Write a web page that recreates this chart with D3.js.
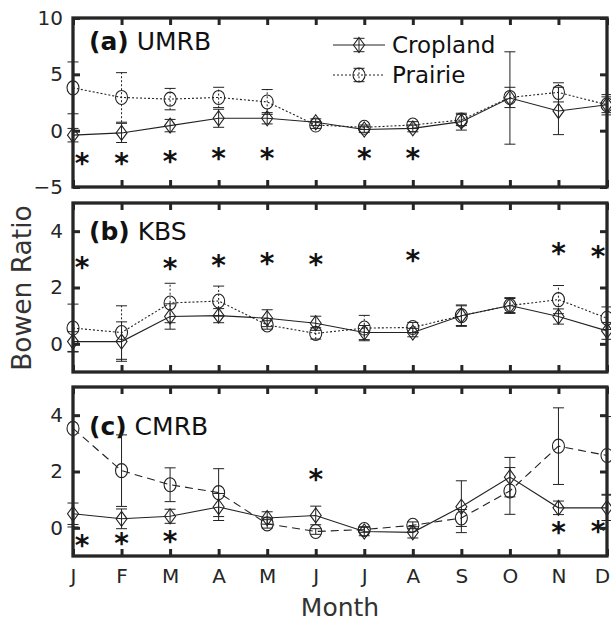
<!DOCTYPE html>
<html>
<head>
<meta charset="utf-8">
<script src="https://cdn.jsdelivr.net/npm/d3@7/dist/d3.min.js"></script>
<style>
  body { margin: 0; background: #fff; }
  svg { display: block; font-family: "DejaVu Sans", sans-serif; }
</style>
</head>
<body>
<svg id="chart" width="611" height="622"></svg>
<script>
// month labels
var months = ['J', 'F', 'M', 'A', 'M', 'J', 'J', 'A', 'S', 'O', 'N', 'D'];

// (a) UMRB
var umrbCrop       = [-0.4, -0.2, 0.45, 1.1, 1.1, 0.75, 0.1, 0.2, 0.8, 2.9, 1.75, 2.3];
var umrbCropErr    = [0.6, 0.85, 0.55, 0.8, 0.5, 0.3, 0.25, 0.3, 0.75, 4.1, 2.1, 0.9];
var umrbPrairie    = [3.8, 2.95, 2.8, 2.95, 2.55, 0.5, 0.3, 0.5, 0.95, 2.95, 3.4, 2.3];
var umrbPrairieErr = [2.3, 2.2, 0.95, 0.9, 1.1, 0.3, 0.2, 0.3, 0.5, 0.9, 0.85, 0.7];
var umrbStars      = [-2.4, -2.4, -2.2, -1.95, -1.95, null, -1.95, -1.95, null, null, null, null];

// (b) KBS
var kbsCrop       = [0.08, 0.08, 0.97, 1.0, 0.91, 0.73, 0.4, 0.4, 1.0, 1.36, 0.97, 0.46];
var kbsCropErr    = [0.35, 0.7, 0.45, 0.25, 0.3, 0.25, 0.25, 0.15, 0.38, 0.28, 0.27, 0.3];
var kbsPrairie    = [0.56, 0.4, 1.45, 1.52, 0.67, 0.37, 0.56, 0.58, 1.0, 1.36, 1.57, 0.91];
var kbsPrairieErr = [0.85, 0.95, 0.7, 0.53, 0.15, 0.2, 0.45, 0.18, 0.35, 0.25, 0.5, 0.4];
var kbsStars      = [2.93, null, 2.9, 2.99, 3.07, 3.03, null, 3.17, null, null, 3.41, 3.33];

// (c) CMRB
var cmrbCrop       = [0.5, 0.32, 0.41, 0.74, 0.35, 0.44, -0.13, -0.16, 0.75, 1.8, 0.71, 0.71];
var cmrbCropErr    = [0.38, 0.35, 0.25, 0.48, 0.22, 0.33, 0.15, 0.2, 0.92, 0.7, 0.24, 0.45];
var cmrbPrairie    = [3.53, 2.03, 1.53, 1.25, 0.14, -0.13, -0.06, 0.09, 0.35, 1.31, 2.9, 2.57];
var cmrbPrairieErr = [3.5, 1.27, 0.6, 0.85, 0.15, 0.1, 0.1, 0.12, 0.3, 0.83, 1.36, 1.38];
var cmrbStars      = [-0.42, -0.33, -0.28, null, null, 1.94, null, null, null, null, 0.05, 0.09];

var svg = d3.select('#chart');
var axisColor = '#262626';
var lineColor = '#222';

var x = d3.scaleLinear().domain([1, 12]).range([73, 607]);

var panels = [
  { tag: '(a)', site: ' UMRB', top: 18, bottom: 187, domain: [-5, 10], ticks: [-5, 0, 5, 10],
    crop: umrbCrop, cropErr: umrbCropErr, prairie: umrbPrairie, prairieErr: umrbPrairieErr,
    stars: umrbStars, dash: '2,2', errDash: '2,2', titleY: 50, legend: true },
  { tag: '(b)', site: ' KBS', top: 203, bottom: 372, domain: [-1, 5], ticks: [0, 2, 4],
    crop: kbsCrop, cropErr: kbsCropErr, prairie: kbsPrairie, prairieErr: kbsPrairieErr,
    stars: kbsStars, dash: '2,2', errDash: '2,2', titleY: 240 },
  { tag: '(c)', site: ' CMRB', top: 387, bottom: 556, domain: [-1, 5], ticks: [0, 2, 4],
    crop: cmrbCrop, cropErr: cmrbCropErr, prairie: cmrbPrairie, prairieErr: cmrbPrairieErr,
    stars: cmrbStars, dash: '8,5', errDash: null, titleY: 435, monthLabels: true }
];

function diamond(g, cx, cy) {
  g.append('path')
    .attr('d', 'M' + cx + ',' + (cy - 7.5) + 'L' + (cx + 5.5) + ',' + cy + 'L' + cx + ',' + (cy + 7.5) + 'L' + (cx - 5.5) + ',' + cy + 'Z')
    .attr('fill', 'none').attr('stroke', lineColor).attr('stroke-width', 1.1);
}
function circle(g, cx, cy) {
  g.append('ellipse').attr('cx', cx).attr('cy', cy).attr('rx', 6).attr('ry', 7)
    .attr('fill', 'none').attr('stroke', lineColor).attr('stroke-width', 1.1);
}
function errBar(g, cx, y1, y2, dash) {
  var e = g.append('g').attr('stroke', lineColor).attr('stroke-width', 1);
  e.append('line').attr('x1', cx).attr('x2', cx).attr('y1', y1).attr('y2', y2)
    .attr('stroke-dasharray', dash);
  e.append('line').attr('x1', cx - 5.5).attr('x2', cx + 5.5).attr('y1', y1).attr('y2', y1);
  e.append('line').attr('x1', cx - 5.5).attr('x2', cx + 5.5).attr('y1', y2).attr('y2', y2);
}

panels.forEach(function (p, k) {
  var y = d3.scaleLinear().domain(p.domain).range([p.bottom, p.top]);
  var g = svg.append('g');

  var clipId = 'clip' + k;
  svg.append('clipPath').attr('id', clipId).append('rect')
    .attr('x', x.range()[0] - 10).attr('y', p.top)
    .attr('width', x.range()[1] - x.range()[0] + 20).attr('height', p.bottom - p.top);

  // panel title
  var t = g.append('text').attr('x', 89).attr('y', p.titleY)
    .attr('font-size', 25).attr('fill', '#111');
  t.append('tspan').attr('font-weight', 'bold').text(p.tag);
  t.append('tspan').text(p.site);

  var line = d3.line().x(function (d, i) { return x(i + 1); }).y(function (d) { return y(d); });
  var data = g.append('g');
  var bars = data.append('g').attr('clip-path', 'url(#' + clipId + ')');

  // error bars
  p.crop.forEach(function (v, i) {
    errBar(bars, x(i + 1), y(v - p.cropErr[i]), y(v + p.cropErr[i]), null);
  });
  p.prairie.forEach(function (v, i) {
    errBar(bars, x(i + 1), y(v - p.prairieErr[i]), y(v + p.prairieErr[i]), p.errDash);
  });

  // lines
  data.append('path').datum(p.crop).attr('d', line)
    .attr('fill', 'none').attr('stroke', lineColor).attr('stroke-width', 1.1);
  data.append('path').datum(p.prairie).attr('d', line)
    .attr('fill', 'none').attr('stroke', lineColor).attr('stroke-width', 1.1)
    .attr('stroke-dasharray', p.dash);

  // markers
  p.crop.forEach(function (v, i) { diamond(data, x(i + 1), y(v)); });
  p.prairie.forEach(function (v, i) { circle(data, x(i + 1), y(v)); });

  // significance stars
  var fs = 28;
  p.stars.forEach(function (v, i) {
    if (v === null) return;
    var off = i === 0 ? 9 : (i === 11 ? -9 : 0);
    g.append('text').attr('x', x(i + 1) + off).attr('y', y(v) + 0.56 * fs)
      .attr('text-anchor', 'middle').attr('font-size', fs).attr('font-weight', 'bold')
      .attr('fill', '#111').text('*');
  });

  // axes with inward ticks
  var yAxisL = d3.axisLeft(y).tickValues(p.ticks).tickSize(-7).tickPadding(10).tickFormat(d3.format('d'));
  var yAxisR = d3.axisRight(y).tickValues(p.ticks).tickSize(-7).tickFormat('');
  var xAxisT = d3.axisTop(x).tickValues(d3.range(1, 13)).tickSize(-7).tickFormat('');
  var xAxisB = d3.axisBottom(x).tickValues(d3.range(1, 13)).tickSize(-7)
    .tickFormat(function (d) { return p.monthLabels ? months[d - 1] : ''; });

  var axes = [
    g.append('g').attr('transform', 'translate(' + x.range()[0] + ',0)').call(yAxisL),
    g.append('g').attr('transform', 'translate(' + x.range()[1] + ',0)').call(yAxisR),
    g.append('g').attr('transform', 'translate(0,' + p.top + ')').call(xAxisT),
    g.append('g').attr('transform', 'translate(0,' + p.bottom + ')').call(xAxisB)
  ];
  axes.forEach(function (a) {
    a.select('.domain').remove();
    a.selectAll('line').attr('stroke', axisColor).attr('stroke-width', 3);
    a.selectAll('text').attr('font-size', 20).attr('fill', axisColor)
      .attr('font-family', '"DejaVu Sans", sans-serif');
  });
  axes[3].selectAll('text').attr('y', 27).attr('dy', 0)
    .attr('dx', function (d) { return d === 12 ? -5 : 0; });

  // frame
  g.append('rect').attr('x', x.range()[0]).attr('y', p.top)
    .attr('width', x.range()[1] - x.range()[0]).attr('height', p.bottom - p.top)
    .attr('fill', 'none').attr('stroke', axisColor).attr('stroke-width', 3.3);

  // legend
  if (p.legend) {
    var lg = g.append('g');
    var items = [
      { label: 'Cropland', yy: 45, dash: null, mark: diamond },
      { label: 'Prairie', yy: 75, dash: '2,2', mark: circle }
    ];
    items.forEach(function (it) {
      lg.append('line').attr('x1', 333).attr('x2', 385).attr('y1', it.yy).attr('y2', it.yy)
        .attr('stroke', lineColor).attr('stroke-width', 1.1).attr('stroke-dasharray', it.dash);
      errBar(lg, 359, it.yy - 6.7, it.yy + 6.7, it.dash);
      it.mark(lg, 359, it.yy);
      lg.append('text').attr('x', 392).attr('y', it.yy + 7.5)
        .attr('font-size', 23).attr('fill', '#111').text(it.label);
    });
  }
});

// axis titles
svg.append('text').attr('transform', 'translate(31,288) rotate(-90)')
  .attr('text-anchor', 'middle').attr('font-size', 26.5).attr('fill', '#333').text('Bowen Ratio');
svg.append('text').attr('x', 340).attr('y', 616)
  .attr('text-anchor', 'middle').attr('font-size', 25).attr('fill', '#333').text('Month');
</script>
</body>
</html>
